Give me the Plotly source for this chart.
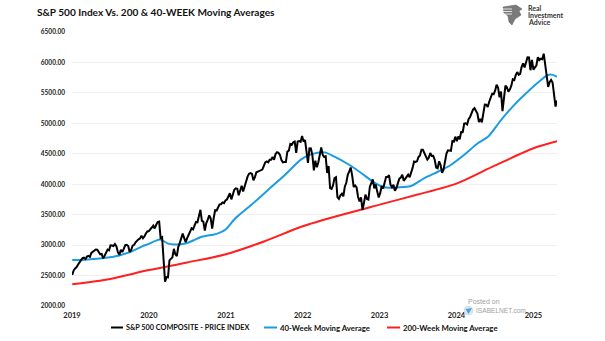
import pandas as pd
import plotly.graph_objects as go

# ---------------- data (weekly, Wednesday closes) ----------------
start_date = "2019-01-02"

spx_2019 = [2510, 2585, 2616, 2639, 2681, 2731, 2753, 2785, 2793, 2772, 2811, 2824, 2805,
            2873, 2888, 2900, 2927, 2924, 2879, 2850, 2856, 2783, 2826, 2880, 2926, 2914,
            2996, 2993, 2985, 3019, 2980, 2884, 2840, 2924, 2887, 2937, 3001, 3006, 2984,
            2888, 2919, 2990, 3004, 3047, 3077, 3094, 3108, 3153, 3113, 3142, 3191, 3224]
spx_2020 = [3231, 3253, 3289, 3321, 3273, 3334, 3379, 3386, 3116, 3130, 2741, 2398, 2475,
            2470, 2750, 2783, 2799, 2939, 2848, 2820, 2972, 3036, 3122, 3190, 3113, 3050,
            3115, 3170, 3227, 3276, 3258, 3327, 3380, 3375, 3479, 3580, 3399, 3385, 3237,
            3363, 3419, 3489, 3436, 3271, 3444, 3573, 3568, 3630, 3669, 3672, 3701, 3690, 3733]
spx_2021 = [3749, 3810, 3852, 3751, 3831, 3910, 3932, 3925, 3820, 3899, 3975, 3881, 3973,
            4080, 4124, 4173, 4183, 4168, 4063, 4116, 4196, 4208, 4220, 4223, 4241, 4298,
            4358, 4374, 4359, 4401, 4403, 4447, 4400, 4496, 4524, 4514, 4480, 4395, 4359,
            4363, 4364, 4537, 4551, 4660, 4646, 4688, 4701, 4513, 4701, 4709, 4696, 4793]
spx_2022 = [4700, 4726, 4533, 4350, 4589, 4587, 4475, 4226, 4387, 4278, 4358, 4456, 4603,
            4481, 4447, 4459, 4184, 4300, 3935, 3923, 3979, 4101, 4116, 3790, 3760, 3819,
            3845, 3802, 3960, 4024, 4155, 4210, 4275, 4141, 3955, 3980, 3946, 3790, 3719,
            3783, 3577, 3695, 3830, 3759, 3749, 3959, 4027, 4080, 3933, 3996, 3879, 3783]
spx_2023 = [3853, 3970, 3929, 4017, 4119, 4118, 4148, 3991, 3951, 3992, 3892, 3937, 4027,
            4091, 4108, 4155, 4056, 4090, 4138, 4158, 4115, 4180, 4268, 4373, 4366, 4377,
            4447, 4473, 4565, 4566, 4513, 4468, 4404, 4436, 4514, 4465, 4467, 4402, 4274,
            4263, 4377, 4314, 4186, 4237, 4383, 4502, 4556, 4551, 4549, 4707, 4698, 4781]
spx_2024 = [4705, 4783, 4739, 4868, 4846, 4995, 5001, 4982, 5069, 5105, 5165, 5225, 5248,
            5211, 5161, 5022, 5071, 5018, 5187, 5308, 5307, 5267, 5354, 5421, 5487, 5478,
            5537, 5633, 5589, 5427, 5522, 5199, 5455, 5620, 5592, 5520, 5554, 5618, 5722,
            5709, 5792, 5842, 5797, 5813, 5929, 5985, 5917, 5999, 6086, 6084, 5872, 6040]
spx_2025 = [5882, 5918, 5950, 6086, 6039, 6061, 6052, 6144, 5956, 5842, 5599, 5675, 5712,
            5671, 5457, 5276, 5376]

ma40_dates = ["2019-01-02", "2019-03-01", "2019-05-01", "2019-07-01", "2019-08-01", "2019-09-01",
              "2019-10-01", "2019-11-01", "2019-12-01", "2020-01-01", "2020-02-01", "2020-02-26",
              "2020-04-01", "2020-05-01", "2020-06-01", "2020-07-01", "2020-08-01", "2020-09-01",
              "2020-10-01", "2020-11-01", "2020-12-01", "2021-01-01", "2021-02-15", "2021-05-01",
              "2021-07-20", "2021-10-08", "2021-12-25", "2022-02-10", "2022-04-15", "2022-06-01",
              "2022-08-03", "2022-10-04", "2022-12-08", "2023-01-22", "2023-03-28", "2023-05-30",
              "2023-07-31", "2023-10-05", "2023-11-28", "2024-02-06", "2024-04-12", "2024-05-30",
              "2024-07-31", "2024-10-01", "2024-12-05", "2025-02-06", "2025-03-10", "2025-03-28",
              "2025-04-23"]
ma40_vals = [2755, 2760, 2775, 2800, 2820, 2850, 2880, 2930, 2980, 3020, 3070, 3090,
             3025, 3010, 3015, 3035, 3080, 3130, 3155, 3170, 3200, 3260, 3440, 3658,
             3905, 4151, 4409, 4491, 4523, 4452, 4332, 4189, 4025, 3949, 3949, 3970,
             4097, 4205, 4299, 4480, 4672, 4780, 5054, 5300, 5519, 5711, 5793, 5800, 5765]

ma200_dates = ["2019-01-02", "2019-07-01", "2020-01-01", "2020-07-01", "2021-01-01", "2021-07-01",
               "2022-01-01", "2022-07-01", "2023-01-01", "2023-07-01", "2024-01-01", "2024-07-01",
               "2025-01-01", "2025-04-23"]
ma200_vals = [2356, 2445, 2590, 2715, 2850, 3060, 3310, 3495, 3665, 3830, 4010, 4305, 4590, 4705]

year_ticks = ["2019-01-01", "2020-01-01", "2021-01-01", "2022-01-01", "2023-01-01",
              "2024-01-01", "2025-01-01"]
year_labels = ["2019", "2020", "2021", "2022", "2023", "2024", "2025"]
y_ticks = [2000, 2500, 3000, 3500, 4000, 4500, 5000, 5500, 6000, 6500]

series_names = ["S&P 500 COMPOSITE - PRICE INDEX", "40-Week Moving Average", "200-Week Moving Average"]
series_colors = ["#000000", "#1b9ce2", "#ff1f1f"]

# ---------------- build ----------------
spx_vals = spx_2019 + spx_2020 + spx_2021 + spx_2022 + spx_2023 + spx_2024 + spx_2025
spx_dates = pd.date_range(start=start_date, periods=len(spx_vals), freq="7D")

FONT = "Lato"
W, H = 605, 341
L, R, T, B = 72, 48, 32, 35
PW, PH = W - L - R, H - T - B


def px(x):
    return (x - L) / PW


def py(y):
    return (H - B - y) / PH


fig = go.Figure()
fig.add_trace(go.Scatter(x=ma200_dates, y=ma200_vals, mode="lines", name=series_names[2],
                         line=dict(color=series_colors[2], width=2, shape="spline", smoothing=0.8)))
fig.add_trace(go.Scatter(x=ma40_dates, y=ma40_vals, mode="lines", name=series_names[1],
                         line=dict(color=series_colors[1], width=2, shape="spline", smoothing=0.8)))
fig.add_trace(go.Scatter(x=spx_dates, y=spx_vals, mode="lines", name=series_names[0],
                         line=dict(color=series_colors[0], width=2)))

fig.update_layout(
    width=W, height=H, autosize=False,
    margin=dict(l=L, r=R, t=T, b=B, pad=0),
    paper_bgcolor="white", plot_bgcolor="white",
    showlegend=False,
    font=dict(family=FONT, color="#222222"),
)
fig.update_xaxes(
    type="date", range=["2019-01-01", "2025-04-23"],
    tickvals=year_ticks, ticktext=year_labels,
    showgrid=False, zeroline=False, showline=False, ticks="",
    tickfont=dict(family=FONT, size=7.5, color="#222222", weight="bold"),
    ticklabelstandoff=3,
)
fig.update_yaxes(
    range=[2000, 6500], tickvals=y_ticks, tickformat=".2f",
    showgrid=True, gridcolor="#efefef", gridwidth=1, zeroline=False, showline=False, ticks="",
    tickfont=dict(family=FONT, size=6.5, color="#222222", weight="bold"),
    ticklabelstandoff=6,
)

ann = []
# title
ann.append(dict(text="S&P 500 Index Vs. 200 & 40-WEEK Moving Averages", xref="paper", yref="paper",
                x=px(35), y=py(12.5), xanchor="left", yanchor="middle", showarrow=False,
                font=dict(family=FONT, size=10.1, color="#111111", weight="bold")))
# logo text
for i, t in enumerate(["Real", "Investment", "Advice"]):
    ann.append(dict(text=t, xref="paper", yref="paper", x=px(526), y=py(7.5 + 7 * i),
                    xanchor="left", yanchor="middle", showarrow=False,
                    font=dict(family=FONT, size=7, color="#333333", weight="bold")))
# watermark
ann.append(dict(text="Posted on", xref="paper", yref="paper", x=px(466), y=py(301.5),
                xanchor="left", yanchor="middle", showarrow=False,
                font=dict(family="Liberation Sans", size=7, color="#a0a0a0")))
ann.append(dict(text="ISABELNET.com", xref="paper", yref="paper", x=px(474), y=py(310.5),
                xanchor="left", yanchor="middle", showarrow=False,
                font=dict(family="Liberation Sans", size=6.6, color="#a0a0a0")))

shapes = []
# legend (manual)
leg_y = 327.5
leg_items = [(111, 123), (264, 277), (387, 400)]
leg_sizes = [7.3, 7.8, 7.8]
for (x0, x1), name, col, fs in zip(leg_items, series_names, series_colors, leg_sizes):
    shapes.append(dict(type="line", xref="paper", yref="paper", x0=px(x0), x1=px(x1),
                       y0=py(leg_y), y1=py(leg_y), line=dict(color=col, width=2)))
    ann.append(dict(text=name, xref="paper", yref="paper", x=px(x1 + 0.5), y=py(leg_y),
                    xanchor="left", yanchor="middle", showarrow=False,
                    font=dict(family=FONT, size=fs, color="#111111", weight="bold")))

# logo icon (stylised eagle head)
def P(x, y):
    return f"{px(x):.5f},{py(y):.5f}"

eagle = ("M " + P(503, 7) + " L " + P(516, 5) + " L " + P(522, 9) + " L " + P(519, 11) +
         " L " + P(521, 15) + " L " + P(515, 19) + " L " + P(512, 25) + " L " + P(509, 22) +
         " L " + P(508, 16) + " L " + P(504, 13) + " Z")
shapes.append(dict(type="path", xref="paper", yref="paper", path=eagle,
                   fillcolor="#7a7a7a", line=dict(color="#5a5a5a", width=0.5)))
for yy in (9, 11.5, 14):
    shapes.append(dict(type="line", xref="paper", yref="paper", x0=px(503), x1=px(512),
                       y0=py(yy), y1=py(yy), line=dict(color="white", width=0.8)))
# watermark icon
shapes.append(dict(type="circle", xref="paper", yref="paper", x0=px(464), x1=px(473),
                   y0=py(315), y1=py(306), fillcolor="#dfe6ee", line=dict(color="#c0c8d0", width=0.5)))
shapes.append(dict(type="path", xref="paper", yref="paper",
                   path="M " + P(465.5, 309) + " L " + P(472, 308) + " L " + P(468.5, 314) + " Z",
                   fillcolor="#4aa3df", line=dict(width=0)))

fig.update_layout(annotations=ann, shapes=shapes)
fig.write_html("out.html")
